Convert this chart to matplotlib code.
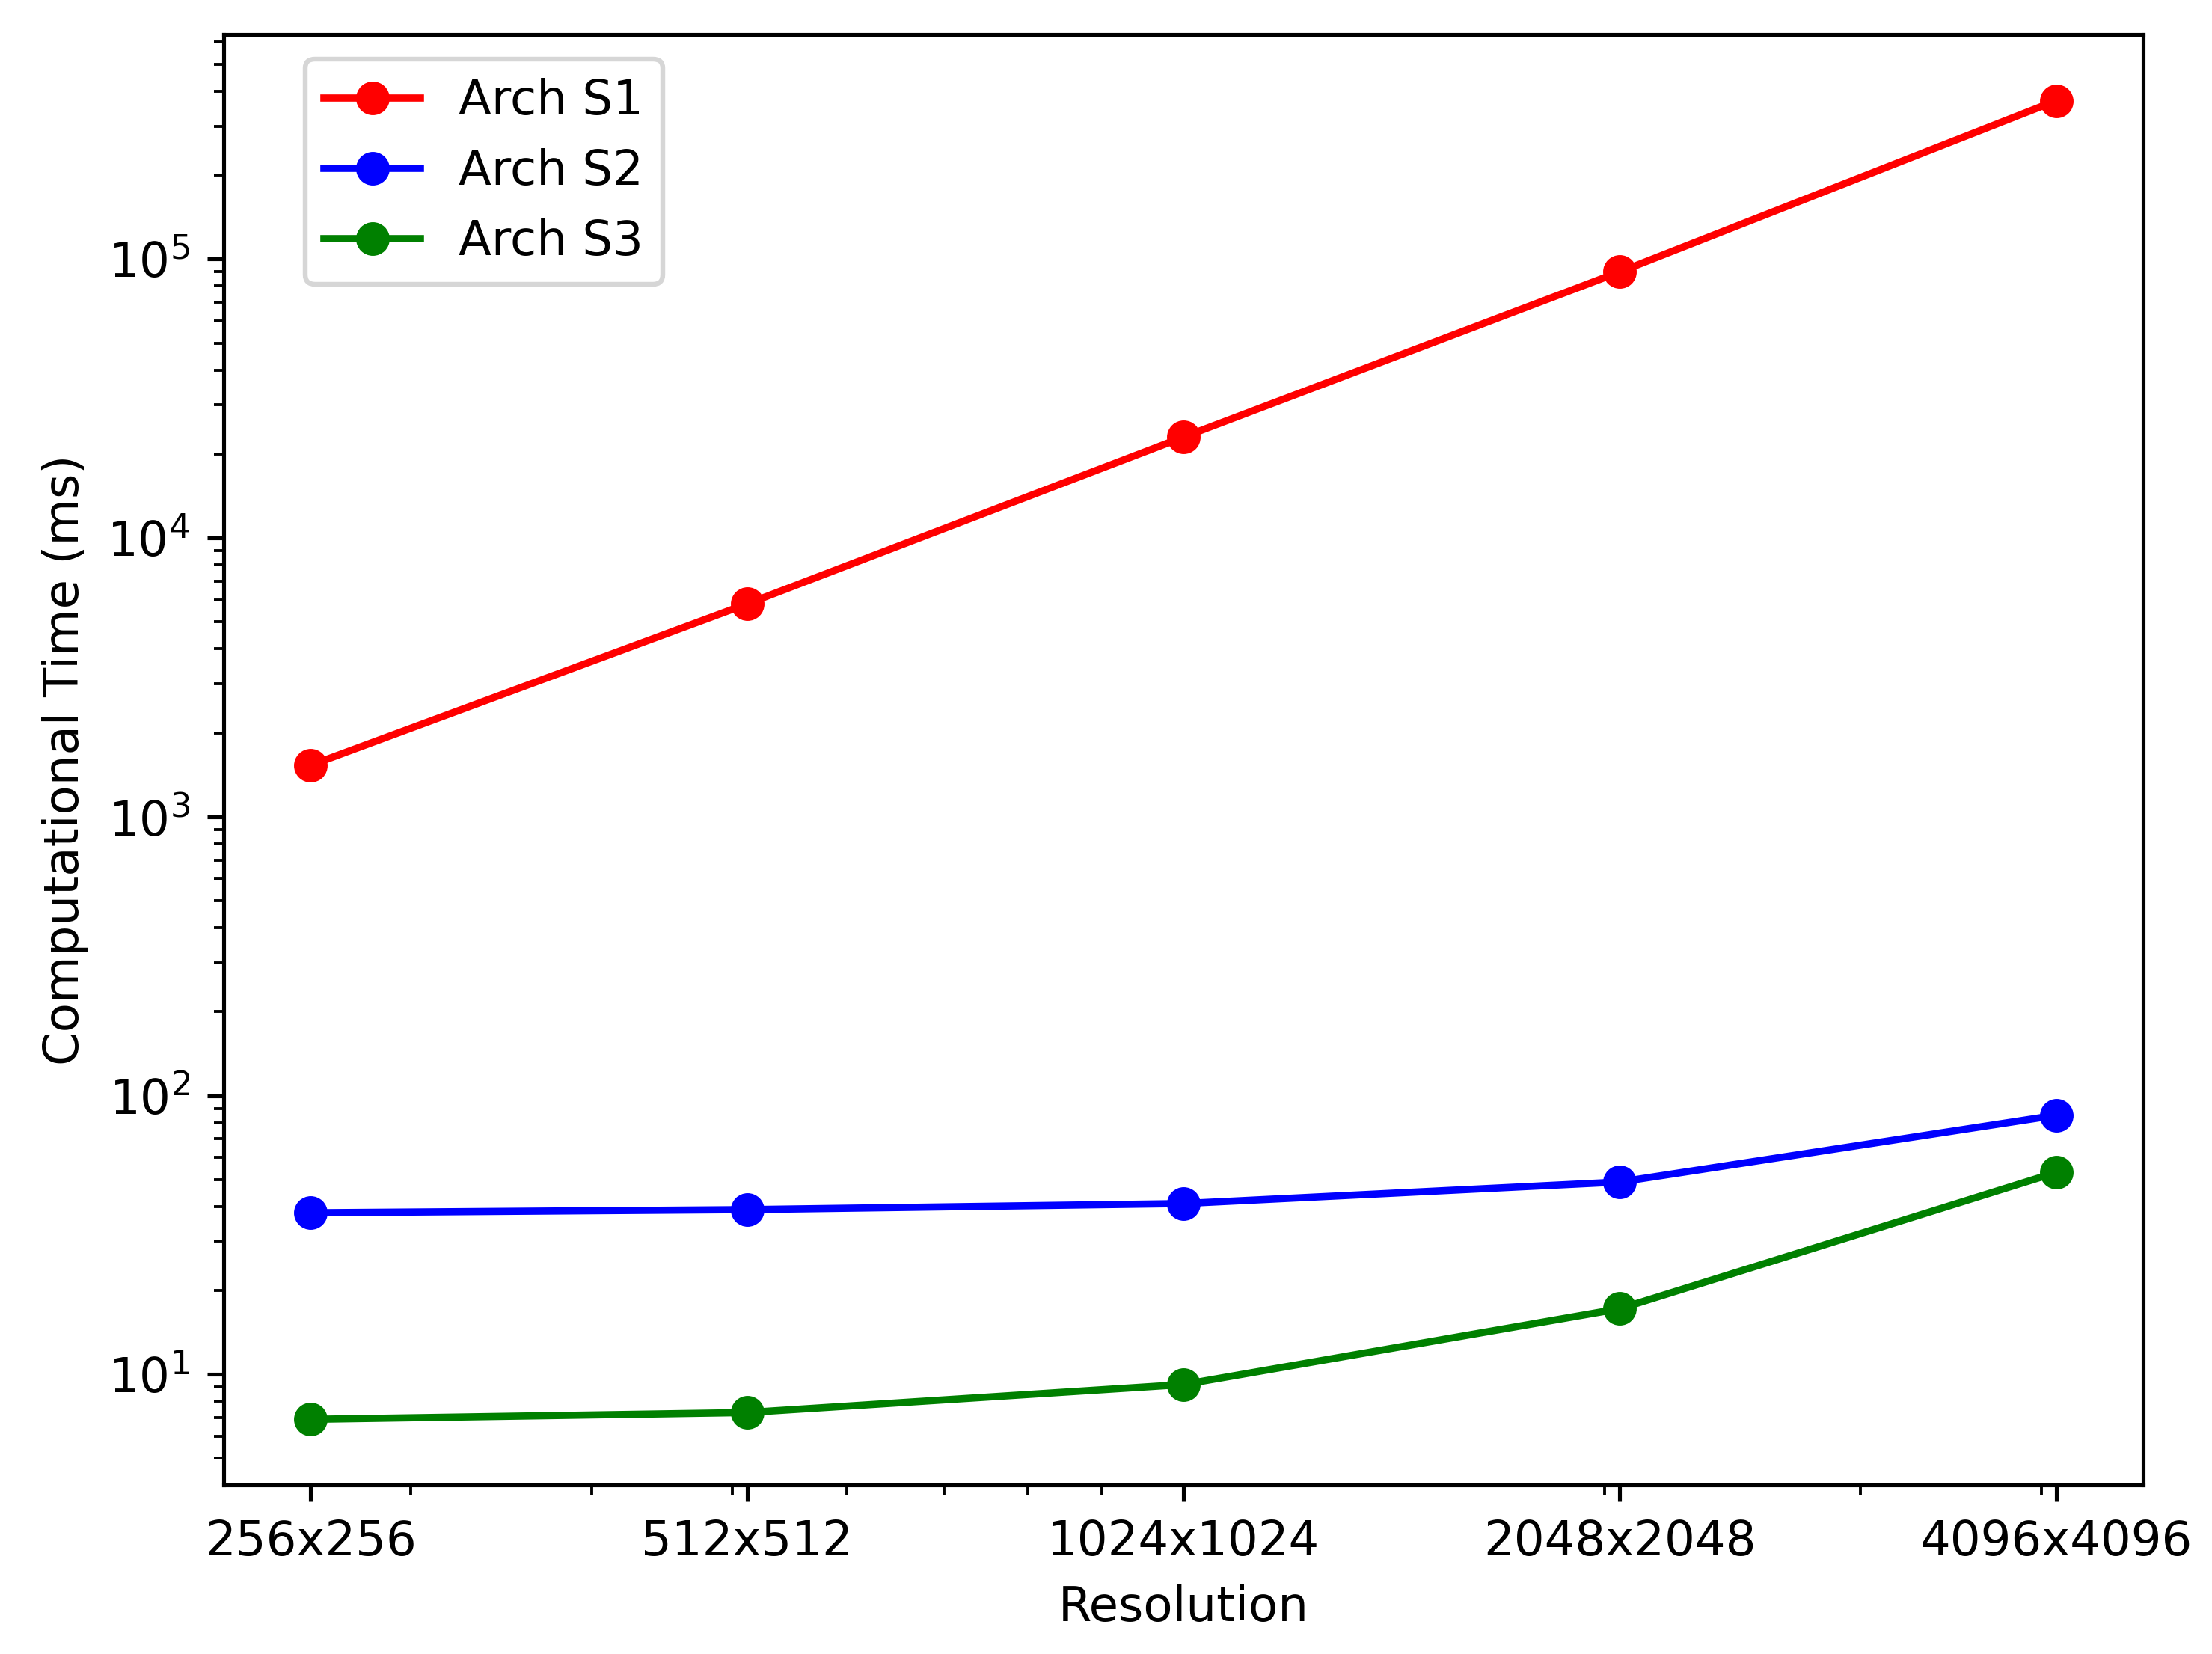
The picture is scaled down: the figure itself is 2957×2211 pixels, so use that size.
import matplotlib
matplotlib.use("Agg")
import matplotlib.pyplot as plt

resolutions = ["256x256", "512x512", "1024x1024", "2048x2048", "4096x4096"]
sizes = [256, 512, 1024, 2048, 4096]
arch_s1 = [1530, 5800, 23000, 90000, 370000]
arch_s2 = [38, 39, 41, 49, 85]
arch_s3 = [6.9, 7.3, 9.2, 17.2, 53]

fig = plt.figure(figsize=(2957/462, 2211/462), dpi=462)
ax = fig.add_axes([0.101, 0.102, 0.868, 0.877])
ax.plot(sizes, arch_s1, "o-", color="red", label="Arch S1")
ax.plot(sizes, arch_s2, "o-", color="blue", label="Arch S2")
ax.plot(sizes, arch_s3, "o-", color="green", label="Arch S3")
ax.set_xscale("log")
ax.set_yscale("log")
ax.set_xticks(sizes)
ax.set_xticklabels(resolutions)
ax.set_xlabel("Resolution")
ax.set_ylabel("Computational Time (ms)")
ax.legend(loc="upper left", bbox_to_anchor=(0.03, 1.0))
fig.savefig("out.png", dpi=462)
